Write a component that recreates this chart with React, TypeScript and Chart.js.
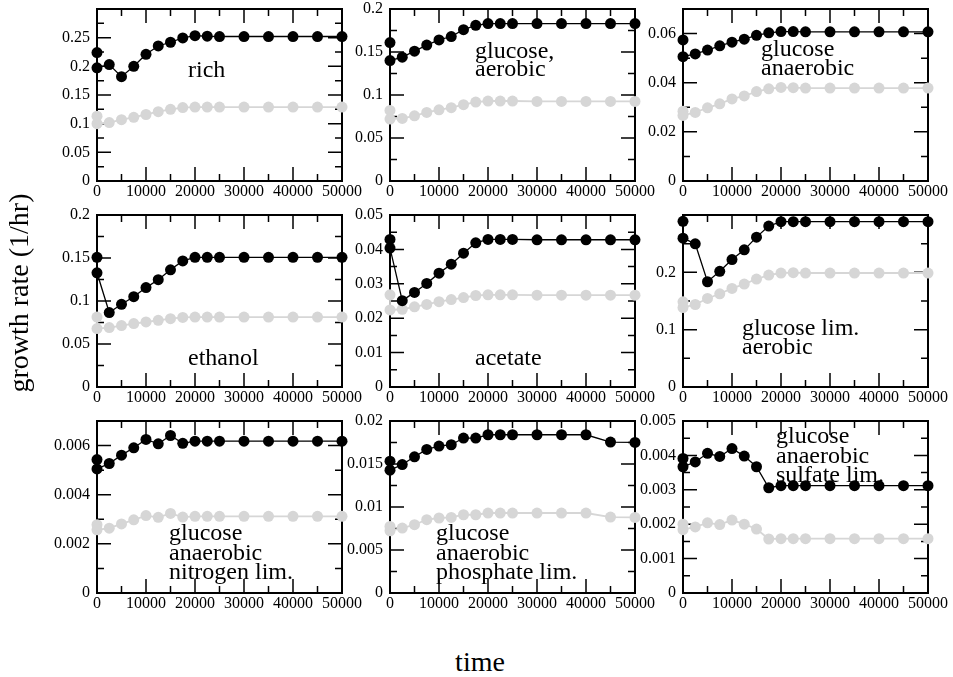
import React, { useEffect, useRef } from "react";
import { Chart, registerables } from "chart.js";

Chart.register(...registerables);

// ---------- data ----------
const timePoints = [0, 0, 2500, 5000, 7500, 10000, 12500, 15000, 17500, 20000, 22500, 25000, 30000, 35000, 40000, 45000, 50000];
const xTickLabels = [0, 10000, 20000, 30000, 40000, 50000];

const richBlack = [0.224, 0.1975, 0.203, 0.182, 0.2, 0.221, 0.2355, 0.242, 0.2495, 0.2535, 0.2525, 0.252, 0.252, 0.252, 0.252, 0.252, 0.252];
const richGray = [0.113, 0.1, 0.102, 0.107, 0.111, 0.116, 0.121, 0.125, 0.128, 0.129, 0.129, 0.129, 0.129, 0.129, 0.129, 0.129, 0.129];

const glcAerBlack = [0.161, 0.14, 0.144, 0.151, 0.158, 0.164, 0.168, 0.176, 0.181, 0.183, 0.183, 0.183, 0.183, 0.183, 0.183, 0.183, 0.183];
const glcAerGray = [0.082, 0.072, 0.0727, 0.0758, 0.0797, 0.0828, 0.0852, 0.0887, 0.0918, 0.093, 0.093, 0.093, 0.0925, 0.0925, 0.0925, 0.0925, 0.0925];

const glcAnaBlack = [0.0574, 0.0506, 0.0517, 0.0533, 0.055, 0.0565, 0.0577, 0.0593, 0.0603, 0.0608, 0.0608, 0.0607, 0.0607, 0.0607, 0.0607, 0.0607, 0.0607];
const glcAnaGray = [0.0284, 0.0267, 0.0279, 0.0298, 0.0314, 0.0334, 0.0346, 0.0364, 0.0375, 0.0381, 0.038, 0.0378, 0.0378, 0.0378, 0.0378, 0.0378, 0.0378];

const ethanolBlack = [0.1508, 0.1328, 0.0866, 0.0962, 0.105, 0.1156, 0.1248, 0.1363, 0.1466, 0.1508, 0.1508, 0.1508, 0.1508, 0.1508, 0.1508, 0.1508, 0.1508];
const ethanolGray = [0.0813, 0.0679, 0.0691, 0.0714, 0.0737, 0.0756, 0.0775, 0.0794, 0.0809, 0.0813, 0.0813, 0.0813, 0.0813, 0.0813, 0.0813, 0.0813, 0.0813];

const acetateBlack = [0.0429, 0.0404, 0.0251, 0.0275, 0.0301, 0.0331, 0.0357, 0.0389, 0.0419, 0.0429, 0.0429, 0.0429, 0.0428, 0.0428, 0.0428, 0.0428, 0.0428];
const acetateGray = [0.0268, 0.0224, 0.0226, 0.0233, 0.024, 0.0248, 0.0254, 0.026, 0.0266, 0.0268, 0.0268, 0.0268, 0.0267, 0.0267, 0.0267, 0.0267, 0.0267];

const glcLimBlack = [0.2889, 0.2596, 0.2497, 0.1836, 0.2018, 0.2222, 0.2392, 0.2614, 0.2807, 0.2883, 0.2883, 0.2883, 0.2883, 0.2883, 0.2883, 0.2883, 0.2883];
const glcLimGray = [0.1485, 0.1386, 0.1439, 0.1544, 0.1626, 0.1719, 0.1795, 0.1883, 0.1953, 0.1988, 0.1994, 0.1988, 0.1988, 0.1988, 0.1988, 0.1988, 0.1988];

const nitroBlack = [0.00543, 0.00505, 0.00527, 0.00561, 0.00591, 0.00625, 0.00607, 0.00641, 0.00609, 0.00618, 0.00618, 0.00618, 0.00618, 0.00618, 0.00618, 0.00618, 0.00618];
const nitroGray = [0.00278, 0.00257, 0.00264, 0.00281, 0.00298, 0.00315, 0.00308, 0.00324, 0.00309, 0.00312, 0.00312, 0.00312, 0.00312, 0.00312, 0.00312, 0.00312, 0.00312];

const phosBlack = [0.01533, 0.01428, 0.01494, 0.01584, 0.01669, 0.01708, 0.01724, 0.01802, 0.01802, 0.0184, 0.0184, 0.0184, 0.0184, 0.0184, 0.0184, 0.01755, 0.01751];
const phosGray = [0.00774, 0.00724, 0.00755, 0.00794, 0.00852, 0.00872, 0.00879, 0.0091, 0.0091, 0.0093, 0.0093, 0.0093, 0.0093, 0.0093, 0.0093, 0.00883, 0.00879];

const sulfBlack = [0.00391, 0.00367, 0.00381, 0.00406, 0.00397, 0.0042, 0.00398, 0.00367, 0.00306, 0.00312, 0.00312, 0.00312, 0.00312, 0.00312, 0.00312, 0.00312, 0.00312];
const sulfGray = [0.002, 0.00184, 0.00192, 0.00204, 0.00199, 0.00212, 0.002, 0.00186, 0.00157, 0.00158, 0.00158, 0.00158, 0.00158, 0.00158, 0.00158, 0.00158, 0.00158];

const yTicksRich = [0, 0.05, 0.1, 0.15, 0.2, 0.25];
const yTicksGlcAer = [0, 0.05, 0.1, 0.15, 0.2];
const yTicksGlcAna = [0, 0.02, 0.04, 0.06];
const yTicksEthanol = [0, 0.05, 0.1, 0.15, 0.2];
const yTicksAcetate = [0, 0.01, 0.02, 0.03, 0.04, 0.05];
const yTicksGlcLim = [0, 0.1, 0.2];
const yTicksNitro = [0, 0.002, 0.004, 0.006];
const yTicksPhos = [0, 0.005, 0.01, 0.015, 0.02];
const yTicksSulf = [0, 0.001, 0.002, 0.003, 0.004, 0.005];

const yAxisTitle = "growth rate (1/hr)";
const xAxisTitle = "time";

// ---------- layout / style ----------
const FONT = '"Liberation Serif", "Times New Roman", serif';
const PLOT_W = 245;
const PLOT_H = 172;
const Y_AXIS_W = 60;
const PAD_T = 12;
const PAD_R = 34;
const X_AXIS_H = 28;
const CANVAS_W = Y_AXIS_W + PLOT_W + PAD_R;
const CANVAS_H = PAD_T + PLOT_H + X_AXIS_H;

type PanelCfg = {
  left: number;
  top: number;
  black: number[];
  gray: number[];
  yMax: number;
  yTicks: number[];
  yMajor: number;
  yMinor: number;
  label: string[];
  labelAt: [number, number];
  lineGap: number;
};

const panels: PanelCfg[] = [
  { left: 97, top: 9, black: richBlack, gray: richGray, yMax: 0.3, yTicks: yTicksRich, yMajor: 0.05, yMinor: 0.025, label: ["rich"], labelAt: [91, 68], lineGap: 19 },
  { left: 390, top: 9, black: glcAerBlack, gray: glcAerGray, yMax: 0.2, yTicks: yTicksGlcAer, yMajor: 0.05, yMinor: 0.025, label: ["glucose,", "aerobic"], labelAt: [85, 49], lineGap: 18 },
  { left: 683, top: 9, black: glcAnaBlack, gray: glcAnaGray, yMax: 0.07, yTicks: yTicksGlcAna, yMajor: 0.02, yMinor: 0.01, label: ["glucose", "anaerobic"], labelAt: [78, 47], lineGap: 19 },
  { left: 97, top: 215, black: ethanolBlack, gray: ethanolGray, yMax: 0.2, yTicks: yTicksEthanol, yMajor: 0.05, yMinor: 0.025, label: ["ethanol"], labelAt: [91, 150], lineGap: 19 },
  { left: 390, top: 215, black: acetateBlack, gray: acetateGray, yMax: 0.05, yTicks: yTicksAcetate, yMajor: 0.01, yMinor: 0.005, label: ["acetate"], labelAt: [85, 150], lineGap: 19 },
  { left: 683, top: 215, black: glcLimBlack, gray: glcLimGray, yMax: 0.3, yTicks: yTicksGlcLim, yMajor: 0.1, yMinor: 0.05, label: ["glucose lim.", "aerobic"], labelAt: [59, 120], lineGap: 19 },
  { left: 97, top: 421, black: nitroBlack, gray: nitroGray, yMax: 0.007, yTicks: yTicksNitro, yMajor: 0.002, yMinor: 0.001, label: ["glucose", "anaerobic", "nitrogen lim."], labelAt: [72, 119], lineGap: 19.5 },
  { left: 390, top: 421, black: phosBlack, gray: phosGray, yMax: 0.02, yTicks: yTicksPhos, yMajor: 0.005, yMinor: 0.0025, label: ["glucose", "anaerobic", "phosphate lim."], labelAt: [46, 119], lineGap: 19.5 },
  { left: 683, top: 421, black: sulfBlack, gray: sulfGray, yMax: 0.005, yTicks: yTicksSulf, yMajor: 0.001, yMinor: 0.0005, label: ["glucose", "anaerobic", "sulfate lim."], labelAt: [93, 22], lineGap: 19.5 },
];

const fmt = (v: number) => String(Number(Number(v).toPrecision(6)));

const isMultiple = (v: number, step: number) => {
  const r = v / step;
  return Math.abs(r - Math.round(r)) < 1e-6;
};

const framePlugin = {
  id: "frameTicks",
  beforeDatasetsDraw(chart: any, _args: any, opts: any) {
    const { ctx, chartArea: a, scales } = chart;
    const xs = scales.x;
    const ys = scales.y;
    const MAJ = 14;
    const MIN = 7;
    ctx.save();
    ctx.strokeStyle = "#000";
    ctx.lineWidth = 1.5;
    ctx.beginPath();
    const nx = Math.round(50000 / 5000);
    for (let i = 0; i <= nx; i++) {
      const v = i * 5000;
      const len = isMultiple(v, 10000) ? MAJ : MIN;
      const px = xs.getPixelForValue(v);
      ctx.moveTo(px, a.bottom);
      ctx.lineTo(px, a.bottom - len);
      ctx.moveTo(px, a.top);
      ctx.lineTo(px, a.top + len);
    }
    const ny = Math.round(opts.yMax / opts.yMinor);
    for (let i = 0; i <= ny; i++) {
      const v = i * opts.yMinor;
      const len = isMultiple(v, opts.yMajor) ? MAJ : MIN;
      const py = ys.getPixelForValue(v);
      ctx.moveTo(a.left, py);
      ctx.lineTo(a.left + len, py);
      ctx.moveTo(a.right, py);
      ctx.lineTo(a.right - len, py);
    }
    ctx.stroke();
    ctx.lineWidth = 2;
    ctx.strokeRect(a.left, a.top, a.right - a.left, a.bottom - a.top);
    ctx.restore();
  },
  afterDatasetsDraw(chart: any, _args: any, opts: any) {
    const { ctx, chartArea: a } = chart;
    ctx.save();
    ctx.fillStyle = "#000";
    ctx.font = `24px ${FONT}`;
    ctx.textAlign = "left";
    ctx.textBaseline = "alphabetic";
    (opts.label as string[]).forEach((line, i) => {
      ctx.fillText(line, a.left + opts.labelAt[0], a.top + opts.labelAt[1] + i * opts.lineGap);
    });
    ctx.restore();
  },
};

function Panel({ cfg }: { cfg: PanelCfg }) {
  const ref = useRef<HTMLCanvasElement | null>(null);
  useEffect(() => {
    if (!ref.current) return;
    const toPts = (vals: number[]) => vals.map((y, i) => ({ x: timePoints[i], y }));
    const chart = new Chart(ref.current, {
      type: "line",
      data: {
        datasets: [
          {
            data: toPts(cfg.black),
            borderColor: "#000",
            backgroundColor: "#000",
            borderWidth: 1.3,
            pointRadius: 5.5,
            pointBorderWidth: 0,
            pointBackgroundColor: "#000",
            clip: false as any,
            tension: 0,
          },
          {
            data: toPts(cfg.gray),
            borderColor: "#d6d6d6",
            backgroundColor: "#d6d6d6",
            borderWidth: 1.8,
            pointRadius: 5.5,
            pointBorderWidth: 0,
            pointBackgroundColor: "#d6d6d6",
            clip: false as any,
            tension: 0,
          },
        ],
      },
      options: {
        animation: false,
        responsive: false,
        events: [],
        layout: { padding: { top: PAD_T, right: PAD_R, left: 0, bottom: 0 } },
        plugins: {
          legend: { display: false },
          tooltip: { enabled: false },
          frameTicks: cfg as any,
        } as any,
        scales: {
          x: {
            type: "linear",
            min: 0,
            max: 50000,
            afterBuildTicks: (s: any) => {
              s.ticks = xTickLabels.map((v) => ({ value: v }));
            },
            afterFit: (s: any) => {
              s.height = X_AXIS_H;
              s.paddingLeft = 0;
              s.paddingRight = 0;
            },
            grid: { display: false, drawTicks: false },
            border: { display: false },
            ticks: {
              autoSkip: false,
              maxRotation: 0,
              minRotation: 0,
              padding: 1,
              color: "#000",
              font: { family: FONT, size: 16 },
              callback: (v: any) => fmt(v),
            },
          },
          y: {
            type: "linear",
            min: 0,
            max: cfg.yMax,
            afterBuildTicks: (s: any) => {
              s.ticks = cfg.yTicks.map((v) => ({ value: v }));
            },
            afterFit: (s: any) => {
              s.width = Y_AXIS_W;
              s.paddingTop = 0;
              s.paddingBottom = 0;
            },
            grid: { display: false, drawTicks: false },
            border: { display: false },
            ticks: {
              autoSkip: false,
              padding: 7,
              color: "#000",
              font: { family: FONT, size: 16 },
              callback: (v: any) => fmt(v),
            },
          },
        },
      },
      plugins: [framePlugin as any],
    });
    return () => chart.destroy();
  }, [cfg]);
  return (
    <canvas
      ref={ref}
      width={CANVAS_W}
      height={CANVAS_H}
      style={{
        position: "absolute",
        left: cfg.left - Y_AXIS_W,
        top: cfg.top - PAD_T,
        width: CANVAS_W,
        height: CANVAS_H,
      }}
    />
  );
}

export default function App() {
  return (
    <div
      style={{
        position: "absolute",
        left: 0,
        top: 0,
        width: 953,
        height: 677,
        background: "#fff",
        overflow: "hidden",
      }}
    >
      {panels.map((p, i) => (
        <Panel key={i} cfg={p} />
      ))}
      <div
        style={{
          position: "absolute",
          left: 19,
          top: 293,
          transform: "translate(-50%, -50%) rotate(-90deg)",
          whiteSpace: "nowrap",
          fontFamily: FONT,
          fontSize: 28,
          lineHeight: 1,
          color: "#000",
        }}
      >
        {yAxisTitle}
      </div>
      <div
        style={{
          position: "absolute",
          left: 480,
          top: 662,
          transform: "translate(-50%, -50%)",
          whiteSpace: "nowrap",
          fontFamily: FONT,
          fontSize: 28,
          lineHeight: 1,
          color: "#000",
        }}
      >
        {xAxisTitle}
      </div>
    </div>
  );
}
